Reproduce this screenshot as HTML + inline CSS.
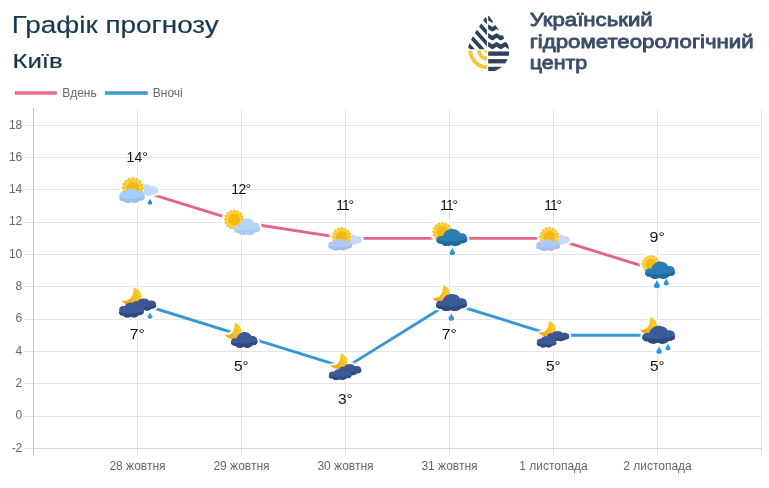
<!DOCTYPE html><html><head><meta charset="utf-8"><title>Графік прогнозу</title>
<style>html,body{margin:0;padding:0;background:#fff}body{width:769px;height:488px;overflow:hidden}svg{display:block;will-change:transform;opacity:0.999}text{font-family:"Liberation Sans", sans-serif}</style></head><body>
<svg width="769" height="488" viewBox="0 0 769 488">
<defs><filter id="glow" x="-30%" y="-30%" width="160%" height="160%" color-interpolation-filters="sRGB"><feMorphology in="SourceAlpha" operator="dilate" radius="1.2" result="d"/><feGaussianBlur in="d" stdDeviation="0.9" result="b"/><feColorMatrix in="b" type="matrix" values="0 0 0 0 1  0 0 0 0 1  0 0 0 0 1  0 0 0 1.8 0" result="w"/><feMerge><feMergeNode in="w"/><feMergeNode in="SourceGraphic"/></feMerge></filter><linearGradient id="mg" x1="0" y1="0.8" x2="1" y2="0.3"><stop offset="0" stop-color="#eaa21c"/><stop offset="0.55" stop-color="#f6bd1e"/><stop offset="1" stop-color="#fbcf3a"/></linearGradient></defs>
<rect width="769" height="488" fill="#fff"/>
<text x="11.8" y="33.2" font-size="24.5" fill="#17384d" stroke="#17384d" stroke-width="0.2" textLength="207" lengthAdjust="spacingAndGlyphs">Графік прогнозу</text>
<text x="12.4" y="68.2" font-size="19.5" fill="#17384d" stroke="#17384d" stroke-width="0.2" textLength="50.2" lengthAdjust="spacingAndGlyphs">Київ</text>
<g font-size="18.8" fill="#3c4d69" stroke="#3c4d69" stroke-width="0.85" stroke-linejoin="round">
<text x="529.7" y="26.0" textLength="123" lengthAdjust="spacingAndGlyphs">Український</text>
<text x="529.7" y="47.6" textLength="224" lengthAdjust="spacingAndGlyphs">гідрометеорологічний</text>
<text x="529.7" y="69" textLength="57.6" lengthAdjust="spacingAndGlyphs">центр</text>
</g>
<defs><clipPath id="dr"><path d="M487.5 13.2 C491 19.5 497 27 503 36 C507 42 509.3 46.5 509.3 51 A20.8 20.8 0 0 1 467.7 51 C467.7 46.5 470 42 473 36 C478.5 27 484 19.5 487.5 13.2Z"/></clipPath><clipPath id="qtl"><rect x="460" y="5" width="26.9" height="44.2"/></clipPath><clipPath id="qtr"><rect x="488.1" y="5" width="30" height="44.2"/></clipPath><clipPath id="qbl"><rect x="460" y="50.4" width="26.9" height="30"/></clipPath><clipPath id="qbr"><rect x="488.1" y="50.4" width="30" height="30"/></clipPath></defs><g clip-path="url(#dr)"><g clip-path="url(#qtl)"><g transform="rotate(48 487 49.5)" fill="#2f3f5e"><rect x="430" y="58.35" width="120" height="3.7"/><rect x="430" y="51.05" width="120" height="3.7"/><rect x="430" y="43.75" width="120" height="3.7"/><rect x="430" y="36.45" width="120" height="3.7"/><rect x="430" y="29.15" width="120" height="3.7"/><rect x="430" y="21.85" width="120" height="3.7"/><rect x="430" y="14.55" width="120" height="3.7"/><rect x="430" y="7.25" width="120" height="3.7"/><rect x="430" y="-0.05" width="120" height="3.7"/><rect x="430" y="-7.35" width="120" height="3.7"/></g></g><g clip-path="url(#qtr)" fill="none" stroke="#2f3f5e" stroke-width="4.1" stroke-linejoin="round"><path d="M484 46.8 L488.2 44.2 L492.4 47.0 L496.6 44.2 L500.8 47.0 L505.0 44.2 L509.2 47.0 L513.4 44.2 L517.6 47.0"/><path d="M484 38.0 L488.2 35.4 L492.4 38.2 L496.6 35.4 L500.8 38.2 L505.0 35.4 L509.2 38.2 L513.4 35.4 L517.6 38.2"/><path d="M484 29.2 L488.2 26.6 L492.4 29.4 L496.6 26.6 L500.8 29.4 L505.0 26.6 L509.2 29.4 L513.4 26.6 L517.6 29.4"/><path d="M484 20.4 L488.2 17.8 L492.4 20.6 L496.6 17.8 L500.8 20.6 L505.0 17.8 L509.2 20.6 L513.4 17.8 L517.6 20.6"/></g><g clip-path="url(#qbr)" fill="#2f3f5e"><rect x="488.1" y="51.5" width="30" height="4.3"/><rect x="488.1" y="59.1" width="30" height="4.3"/><rect x="488.1" y="66.8" width="30" height="4.3"/></g><g clip-path="url(#qbl)" fill="none" stroke="#efc83a" stroke-width="3.9"><circle cx="487.4" cy="49.9" r="17.2"/><circle cx="487.4" cy="49.9" r="8.7"/><circle cx="487.4" cy="49.9" r="3.4" fill="#efc83a" stroke="none"/></g></g>
<rect x="14.8" y="91.2" width="42" height="3.6" fill="#e8708c"/>
<rect x="104.8" y="91.2" width="43" height="3.6" fill="#409bd2"/>
<g font-size="12" fill="#666"><text x="62.3" y="97">Вдень</text><text x="152.8" y="97">Вночі</text></g>
<g stroke="#e4e4e4" stroke-width="1" shape-rendering="crispEdges">
<line x1="24.0" y1="448.40" x2="761.5" y2="448.40"/>
<line x1="24.0" y1="416.09" x2="761.5" y2="416.09"/>
<line x1="24.0" y1="383.78" x2="761.5" y2="383.78"/>
<line x1="24.0" y1="351.47" x2="761.5" y2="351.47"/>
<line x1="24.0" y1="319.16" x2="761.5" y2="319.16"/>
<line x1="24.0" y1="286.85" x2="761.5" y2="286.85"/>
<line x1="24.0" y1="254.54" x2="761.5" y2="254.54"/>
<line x1="24.0" y1="222.23" x2="761.5" y2="222.23"/>
<line x1="24.0" y1="189.92" x2="761.5" y2="189.92"/>
<line x1="24.0" y1="157.61" x2="761.5" y2="157.61"/>
<line x1="24.0" y1="125.30" x2="761.5" y2="125.30"/>
<line x1="137.50" y1="107.5" x2="137.50" y2="456.0"/>
<line x1="241.50" y1="107.5" x2="241.50" y2="456.0"/>
<line x1="345.50" y1="107.5" x2="345.50" y2="456.0"/>
<line x1="449.50" y1="107.5" x2="449.50" y2="456.0"/>
<line x1="553.50" y1="107.5" x2="553.50" y2="456.0"/>
<line x1="657.50" y1="107.5" x2="657.50" y2="456.0"/>
<line x1="761.50" y1="107.5" x2="761.50" y2="456.0"/>
</g>
<line x1="33.50" y1="107.5" x2="33.50" y2="455" stroke="#c4c4c4" stroke-width="1" shape-rendering="crispEdges"/>
<line x1="33.50" y1="448.40" x2="761.50" y2="448.40" stroke="#d6d6d6" stroke-width="1" shape-rendering="crispEdges"/>
<g font-size="12" fill="#666" text-anchor="end">
<text x="22.3" y="451.6">-2</text>
<text x="22.3" y="419.3">0</text>
<text x="22.3" y="387.0">2</text>
<text x="22.3" y="354.7">4</text>
<text x="22.3" y="322.4">6</text>
<text x="22.3" y="290.0">8</text>
<text x="22.3" y="257.7">10</text>
<text x="22.3" y="225.4">12</text>
<text x="22.3" y="193.1">14</text>
<text x="22.3" y="160.8">16</text>
<text x="22.3" y="128.5">18</text>
</g>
<g font-size="12" fill="#666" text-anchor="middle">
<text x="137.5" y="469.8">28 жовтня</text>
<text x="241.5" y="469.8">29 жовтня</text>
<text x="345.5" y="469.8">30 жовтня</text>
<text x="449.5" y="469.8">31 жовтня</text>
<text x="553.5" y="469.8">1 листопада</text>
<text x="657.5" y="469.8">2 листопада</text>
</g>
<polyline points="137.50,189.92 241.50,222.23 345.50,238.38 449.50,238.38 553.50,238.38 657.50,270.69" fill="none" stroke="#e46489" stroke-width="2.9" stroke-linejoin="round"/>
<polyline points="137.50,303.00 241.50,335.31 345.50,367.62 449.50,303.00 553.50,335.31 657.50,335.31" fill="none" stroke="#3896d6" stroke-width="2.9" stroke-linejoin="round"/>
<g filter="url(#glow)"><path d="M134.49 190.66 C133.75 188.14 136.46 186.62 139.66 187.13 C141.38 183.60 149.25 183.10 151.22 186.62 C154.66 185.62 158.60 187.38 158.23 189.90 C159.09 192.42 156.88 194.44 153.68 194.06 C151.96 196.20 147.78 196.58 145.81 195.32 C143.35 196.70 139.41 196.20 138.43 194.44 C135.48 194.81 133.51 192.92 134.49 190.66Z" fill="#c3dbf8" opacity="1"/><circle cx="132.80" cy="188.30" r="11.50" fill="#fdf3b8" opacity="0.9"/><circle cx="132.80" cy="188.30" r="9.89" fill="none" stroke="#edb92c" stroke-width="2.30" stroke-dasharray="0.010 3.874" stroke-linecap="round"/><circle cx="132.80" cy="188.30" r="9.66" fill="#f3c33a"/><circle cx="132.80" cy="188.30" r="8.74" fill="#fbd445"/><circle cx="132.80" cy="188.30" r="6.67" fill="#f9b90c"/><path d="M119.52 196.34 C118.74 193.22 121.58 191.34 124.93 191.97 C126.74 187.60 135.00 186.98 137.06 191.34 C140.67 190.10 144.80 192.28 144.41 195.40 C145.32 198.52 142.99 201.02 139.64 200.55 C137.83 203.20 133.45 203.67 131.38 202.11 C128.80 203.82 124.68 203.20 123.64 201.02 C120.55 201.48 118.48 199.14 119.52 196.34Z" fill="#a5cdf8" opacity="1"/><path d="M119.52 197.58 C125.45 199.46 137.58 199.77 144.41 196.34 C145.32 198.52 142.99 201.02 139.64 200.55 C137.83 203.20 133.45 203.67 131.38 202.11 C128.80 203.82 124.68 203.20 123.64 201.02 C120.55 201.48 118.48 199.14 119.52 196.34Z" fill="#96c0f0" opacity="1"/><path d="M150.00 198.60 C150.67 200.70 152.22 201.60 152.22 202.92 C152.22 205.08 147.78 205.08 147.78 202.92 C147.78 201.60 149.33 200.70 150.00 198.60Z" fill="#1f8fd0"/></g>
<g filter="url(#glow)"><circle cx="234.00" cy="219.60" r="10.40" fill="#fdf3b8" opacity="0.9"/><circle cx="234.00" cy="219.60" r="8.94" fill="none" stroke="#edb92c" stroke-width="2.08" stroke-dasharray="0.010 3.502" stroke-linecap="round"/><circle cx="234.00" cy="219.60" r="8.74" fill="#f3c33a"/><circle cx="234.00" cy="219.60" r="7.90" fill="#fbd445"/><circle cx="234.00" cy="219.60" r="6.03" fill="#f9b90c"/><path d="M234.33 229.08 C233.54 226.36 236.44 224.49 239.34 225.34 C240.93 219.90 245.42 217.52 249.11 218.71 C251.75 219.22 253.60 220.75 254.13 222.79 C257.30 221.94 260.20 224.32 259.80 227.72 C260.73 230.10 258.35 232.82 254.92 232.31 C253.07 235.20 248.58 235.71 246.47 234.01 C243.83 235.88 239.61 235.20 238.55 232.82 C235.38 233.33 233.27 230.78 234.33 227.72Z" fill="#b4d4f9" opacity="1"/><path d="M234.33 229.08 C240.40 231.12 252.81 231.46 259.80 227.72 C260.73 230.10 258.35 232.82 254.92 232.31 C253.07 235.20 248.58 235.71 246.47 234.01 C243.83 235.88 239.61 235.20 238.55 232.82 C235.38 233.33 233.27 230.78 234.33 227.72Z" fill="#a9cbf5" opacity="1"/></g>
<g filter="url(#glow)"><path d="M341.42 239.87 C340.79 237.63 343.10 236.29 345.83 236.74 C347.30 233.60 354.02 233.15 355.70 236.29 C358.64 235.39 362.00 236.96 361.69 239.20 C362.42 241.44 360.53 243.23 357.80 242.90 C356.33 244.80 352.76 245.14 351.08 244.02 C348.98 245.25 345.62 244.80 344.78 243.23 C342.26 243.57 340.58 241.89 341.42 239.87Z" fill="#c6d8f8" opacity="1"/><circle cx="341.60" cy="237.00" r="10.30" fill="#fdf3b8" opacity="0.9"/><circle cx="341.60" cy="237.00" r="8.86" fill="none" stroke="#edb92c" stroke-width="2.06" stroke-dasharray="0.010 3.469" stroke-linecap="round"/><circle cx="341.60" cy="237.00" r="8.65" fill="#f3c33a"/><circle cx="341.60" cy="237.00" r="7.83" fill="#fbd445"/><circle cx="341.60" cy="237.00" r="5.97" fill="#f9b90c"/><path d="M328.49 245.09 C327.76 242.63 330.44 241.15 333.61 241.64 C335.32 238.20 343.13 237.71 345.08 241.15 C348.50 240.17 352.40 241.89 352.03 244.35 C352.89 246.81 350.69 248.78 347.52 248.41 C345.81 250.50 341.66 250.87 339.71 249.64 C337.27 250.99 333.37 250.50 332.39 248.78 C329.46 249.15 327.51 247.30 328.49 245.09Z" fill="#aec8f7" opacity="1"/><path d="M328.49 246.07 C334.10 247.55 345.57 247.79 352.03 245.09 C352.89 246.81 350.69 248.78 347.52 248.41 C345.81 250.50 341.66 250.87 339.71 249.64 C337.27 250.99 333.37 250.50 332.39 248.78 C329.46 249.15 327.51 247.30 328.49 245.09Z" fill="#a2bcf0" opacity="1"/></g>
<g filter="url(#glow)"><circle cx="442.30" cy="232.00" r="10.40" fill="#fdf3b8" opacity="0.9"/><circle cx="442.30" cy="232.00" r="8.94" fill="none" stroke="#edb92c" stroke-width="2.08" stroke-dasharray="0.010 3.502" stroke-linecap="round"/><circle cx="442.30" cy="232.00" r="8.74" fill="#f3c33a"/><circle cx="442.30" cy="232.00" r="7.90" fill="#fbd445"/><circle cx="442.30" cy="232.00" r="6.03" fill="#f9b90c"/><path d="M436.83 239.94 C435.89 237.15 439.33 235.24 442.77 236.11 C444.65 230.54 449.97 228.10 454.35 229.32 C457.48 229.84 459.68 231.41 460.30 233.50 C464.06 232.63 467.50 235.06 467.03 238.54 C468.13 240.98 465.31 243.76 461.24 243.24 C459.05 246.20 453.73 246.72 451.22 244.98 C448.09 246.90 443.09 246.20 441.83 243.76 C438.08 244.29 435.57 241.68 436.83 238.54Z" fill="#2b7eb2" opacity="1"/><path d="M436.83 239.94 C444.02 242.02 458.74 242.37 467.03 238.54 C468.13 240.98 465.31 243.76 461.24 243.24 C459.05 246.20 453.73 246.72 451.22 244.98 C448.09 246.90 443.09 246.20 441.83 243.76 C438.08 244.29 435.57 241.68 436.83 238.54Z" fill="#216b9c" opacity="1"/><path d="M452.30 247.80 C453.12 250.39 455.04 251.50 455.04 253.13 C455.04 255.79 449.56 255.79 449.56 253.13 C449.56 251.50 451.48 250.39 452.30 247.80Z" fill="#1b9ce0"/></g>
<g filter="url(#glow)"><path d="M549.42 239.87 C548.79 237.63 551.10 236.29 553.83 236.74 C555.30 233.60 562.02 233.15 563.70 236.29 C566.64 235.39 570.00 236.96 569.68 239.20 C570.42 241.44 568.53 243.23 565.80 242.90 C564.33 244.80 560.76 245.14 559.08 244.02 C556.98 245.25 553.62 244.80 552.78 243.23 C550.26 243.57 548.58 241.89 549.42 239.87Z" fill="#c6d8f8" opacity="1"/><circle cx="549.30" cy="237.00" r="10.50" fill="#fdf3b8" opacity="0.9"/><circle cx="549.30" cy="237.00" r="9.03" fill="none" stroke="#edb92c" stroke-width="2.10" stroke-dasharray="0.010 3.536" stroke-linecap="round"/><circle cx="549.30" cy="237.00" r="8.82" fill="#f3c33a"/><circle cx="549.30" cy="237.00" r="7.98" fill="#fbd445"/><circle cx="549.30" cy="237.00" r="6.09" fill="#f9b90c"/><path d="M536.48 245.46 C535.76 242.94 538.42 241.42 541.57 241.93 C543.26 238.40 551.00 237.90 552.94 241.42 C556.33 240.42 560.20 242.18 559.84 244.70 C560.68 247.22 558.51 249.24 555.36 248.86 C553.67 251.00 549.55 251.38 547.62 250.12 C545.20 251.50 541.32 251.00 540.36 249.24 C537.45 249.61 535.52 247.72 536.48 245.46Z" fill="#aec8f7" opacity="1"/><path d="M536.48 246.46 C542.05 247.98 553.42 248.23 559.84 245.46 C560.68 247.22 558.51 249.24 555.36 248.86 C553.67 251.00 549.55 251.38 547.62 250.12 C545.20 251.50 541.32 251.00 540.36 249.24 C537.45 249.61 535.52 247.72 536.48 245.46Z" fill="#a2bcf0" opacity="1"/></g>
<g filter="url(#glow)"><circle cx="650.80" cy="264.00" r="9.40" fill="#fdf3b8" opacity="0.9"/><circle cx="650.80" cy="264.00" r="8.08" fill="none" stroke="#edb92c" stroke-width="1.88" stroke-dasharray="0.010 3.165" stroke-linecap="round"/><circle cx="650.80" cy="264.00" r="7.90" fill="#f3c33a"/><circle cx="650.80" cy="264.00" r="7.14" fill="#fbd445"/><circle cx="650.80" cy="264.00" r="5.45" fill="#f9b90c"/><path d="M645.41 272.66 C644.50 269.85 647.84 267.91 651.18 268.79 C653.01 263.16 658.18 260.70 662.43 261.93 C665.47 262.46 667.60 264.04 668.21 266.15 C671.86 265.27 675.20 267.74 674.74 271.26 C675.81 273.72 673.07 276.54 669.12 276.01 C666.99 279.00 661.82 279.53 659.39 277.77 C656.35 279.70 651.49 279.00 650.27 276.54 C646.62 277.06 644.19 274.42 645.41 271.26Z" fill="#2b7eb2" opacity="1"/><path d="M645.41 272.66 C652.40 274.78 666.69 275.13 674.74 271.26 C675.81 273.72 673.07 276.54 669.12 276.01 C666.99 279.00 661.82 279.53 659.39 277.77 C656.35 279.70 651.49 279.00 650.27 276.54 C646.62 277.06 644.19 274.42 645.41 271.26Z" fill="#216b9c" opacity="1"/><path d="M656.90 280.00 C657.82 282.91 659.97 284.15 659.97 285.98 C659.97 288.96 653.83 288.96 653.83 285.98 C653.83 284.15 655.98 282.91 656.90 280.00Z" fill="#2196dc"/><path d="M666.30 278.60 C667.07 281.01 668.85 282.05 668.85 283.57 C668.85 286.05 663.75 286.05 663.75 283.57 C663.75 282.05 665.53 281.01 666.30 278.60Z" fill="#2196dc"/></g>
<g filter="url(#glow)"><path d="M133.54 287.50 C141.50 289.27 143.89 297.24 139.11 302.37 C134.73 306.62 124.78 305.91 121.60 300.60 C126.38 301.66 130.75 299.54 132.35 295.29 C133.54 292.10 133.54 289.62 133.54 287.50Z" fill="url(#mg)"/><path d="M132.49 304.97 C131.76 302.41 134.44 300.87 137.61 301.38 C139.32 297.80 147.13 297.29 149.08 300.87 C152.50 299.85 156.40 301.64 156.03 304.20 C156.89 306.76 154.69 308.81 151.52 308.42 C149.81 310.60 145.66 310.98 143.71 309.70 C141.27 311.11 137.37 310.60 136.39 308.81 C133.46 309.19 131.51 307.27 132.49 304.97Z" fill="#3a5590" opacity="1"/><path d="M132.49 305.99 C138.10 307.53 149.57 307.78 156.03 304.97 C156.89 306.76 154.69 308.81 151.52 308.42 C149.81 310.60 145.66 310.98 143.71 309.70 C141.27 311.11 137.37 310.60 136.39 308.81 C133.46 309.19 131.51 307.27 132.49 304.97Z" fill="#2f4a80" opacity="1"/><path d="M119.30 310.65 C118.55 307.49 121.32 305.59 124.60 306.22 C126.36 301.80 134.42 301.17 136.44 305.59 C139.97 304.33 144.00 306.54 143.62 309.70 C144.50 312.86 142.24 315.39 138.96 314.91 C137.20 317.60 132.91 318.07 130.90 316.49 C128.38 318.23 124.34 317.60 123.34 315.39 C120.31 315.86 118.30 313.49 119.30 310.65Z" fill="#3b5b96" opacity="1"/><path d="M119.30 311.91 C125.10 313.81 136.94 314.12 143.62 310.65 C144.50 312.86 142.24 315.39 138.96 314.91 C137.20 317.60 132.91 318.07 130.90 316.49 C128.38 318.23 124.34 317.60 123.34 315.39 C120.31 315.86 118.30 313.49 119.30 310.65Z" fill="#2f4a80" opacity="1"/><path d="M150.00 312.20 C150.74 314.54 152.48 315.55 152.48 317.02 C152.48 319.44 147.52 319.44 147.52 317.02 C147.52 315.55 149.26 314.54 150.00 312.20Z" fill="#3b9ee2"/></g>
<g filter="url(#glow)"><path d="M234.78 322.50 C241.30 324.17 243.26 331.69 239.34 336.53 C235.76 340.54 227.61 339.87 225.00 334.86 C228.91 335.86 232.50 333.86 233.80 329.85 C234.78 326.84 234.78 324.50 234.78 322.50Z" fill="url(#mg)"/><path d="M231.24 342.13 C230.43 339.52 233.40 337.73 236.37 338.55 C237.99 333.33 242.58 331.05 246.36 332.19 C249.06 332.68 250.95 334.14 251.49 336.10 C254.73 335.29 257.70 337.57 257.29 340.83 C258.24 343.11 255.81 345.72 252.30 345.23 C250.41 348.00 245.82 348.49 243.66 346.86 C240.96 348.65 236.64 348.00 235.56 345.72 C232.32 346.21 230.16 343.76 231.24 340.83Z" fill="#3b5b96" opacity="1"/><path d="M231.24 342.13 C237.45 344.09 250.14 344.41 257.29 340.83 C258.24 343.11 255.81 345.72 252.30 345.23 C250.41 348.00 245.82 348.49 243.66 346.86 C240.96 348.65 236.64 348.00 235.56 345.72 C232.32 346.21 230.16 343.76 231.24 340.83Z" fill="#2f4a80" opacity="1"/></g>
<g filter="url(#glow)"><path d="M340.58 353.50 C347.50 355.07 349.58 362.13 345.42 366.69 C341.62 370.46 332.97 369.83 330.20 365.12 C334.35 366.06 338.16 364.18 339.54 360.41 C340.58 357.58 340.58 355.38 340.58 353.50Z" fill="url(#mg)"/><path d="M339.45 370.06 C338.77 367.68 341.25 366.26 344.18 366.73 C345.75 363.40 352.95 362.92 354.75 366.26 C357.90 365.30 361.50 366.97 361.16 369.35 C361.95 371.73 359.93 373.63 357.00 373.28 C355.43 375.30 351.60 375.66 349.80 374.47 C347.55 375.78 343.95 375.30 343.05 373.63 C340.35 373.99 338.55 372.21 339.45 370.06Z" fill="#3a5590" opacity="1"/><path d="M339.45 371.02 C344.62 372.44 355.20 372.68 361.16 370.06 C361.95 371.73 359.93 373.63 357.00 373.28 C355.43 375.30 351.60 375.66 349.80 374.47 C347.55 375.78 343.95 375.30 343.05 373.63 C340.35 373.99 338.55 372.21 339.45 370.06Z" fill="#2f4a80" opacity="1"/><path d="M329.06 374.90 C328.37 372.58 330.90 371.18 333.89 371.65 C335.50 368.40 342.86 367.94 344.70 371.18 C347.92 370.26 351.60 371.88 351.25 374.20 C352.06 376.52 349.99 378.38 347.00 378.03 C345.39 380.00 341.48 380.35 339.64 379.19 C337.34 380.46 333.66 380.00 332.74 378.38 C329.98 378.72 328.14 376.98 329.06 374.90Z" fill="#3b5b96" opacity="1"/><path d="M329.06 375.82 C334.35 377.22 345.16 377.45 351.25 374.90 C352.06 376.52 349.99 378.38 347.00 378.03 C345.39 380.00 341.48 380.35 339.64 379.19 C337.34 380.46 333.66 380.00 332.74 378.38 C329.98 378.72 328.14 376.98 329.06 374.90Z" fill="#2f4a80" opacity="1"/></g>
<g filter="url(#glow)"><path d="M442.98 285.00 C449.90 286.74 451.98 294.57 447.82 299.62 C444.02 303.79 435.37 303.10 432.60 297.88 C436.75 298.92 440.56 296.83 441.94 292.66 C442.98 289.52 442.98 287.09 442.98 285.00Z" fill="url(#mg)"/><path d="M436.33 304.87 C435.38 302.10 438.86 300.20 442.34 301.07 C444.23 295.53 449.60 293.11 454.03 294.32 C457.19 294.84 459.40 296.40 460.03 298.47 C463.82 297.61 467.30 300.03 466.83 303.49 C467.93 305.91 465.09 308.68 460.98 308.16 C458.77 311.10 453.40 311.62 450.87 309.89 C447.71 311.79 442.65 311.10 441.39 308.68 C437.60 309.20 435.07 306.60 436.33 303.49Z" fill="#3b5b96" opacity="1"/><path d="M436.33 304.87 C443.60 306.95 458.45 307.29 466.83 303.49 C467.93 305.91 465.09 308.68 460.98 308.16 C458.77 311.10 453.40 311.62 450.87 309.89 C447.71 311.79 442.65 311.10 441.39 308.68 C437.60 309.20 435.07 306.60 436.33 303.49Z" fill="#2f4a80" opacity="1"/><path d="M451.30 313.20 C452.14 315.86 454.11 317.00 454.11 318.67 C454.11 321.41 448.49 321.41 448.49 318.67 C448.49 317.00 450.46 315.86 451.30 313.20Z" fill="#3f8fdb"/></g>
<g filter="url(#glow)"><path d="M548.78 321.10 C555.90 322.62 558.04 329.46 553.76 333.87 C549.85 337.52 540.95 336.91 538.10 332.35 C542.37 333.26 546.29 331.44 547.71 327.79 C548.78 325.05 548.78 322.92 548.78 321.10Z" fill="url(#mg)"/><path d="M547.45 336.50 C546.78 334.32 549.24 333.02 552.15 333.45 C553.72 330.40 560.89 329.96 562.68 333.02 C565.82 332.14 569.40 333.67 569.06 335.85 C569.85 338.03 567.83 339.77 564.92 339.45 C563.35 341.30 559.54 341.63 557.75 340.54 C555.51 341.74 551.93 341.30 551.03 339.77 C548.34 340.10 546.55 338.47 547.45 336.50Z" fill="#3a5590" opacity="1"/><path d="M547.45 337.38 C552.60 338.68 563.13 338.90 569.06 336.50 C569.85 338.03 567.83 339.77 564.92 339.45 C563.35 341.30 559.54 341.63 557.75 340.54 C555.51 341.74 551.93 341.30 551.03 339.77 C548.34 340.10 546.55 338.47 547.45 336.50Z" fill="#2f4a80" opacity="1"/><path d="M537.00 342.23 C536.40 339.79 538.59 338.33 541.18 338.82 C542.57 335.40 548.94 334.91 550.53 338.33 C553.32 337.35 556.50 339.06 556.20 341.50 C556.90 343.94 555.11 345.89 552.52 345.53 C551.13 347.60 547.74 347.97 546.15 346.75 C544.16 348.09 540.98 347.60 540.18 345.89 C537.79 346.26 536.20 344.43 537.00 342.23Z" fill="#3b5b96" opacity="1"/><path d="M537.00 343.21 C541.58 344.67 550.93 344.92 556.20 342.23 C556.90 343.94 555.11 345.89 552.52 345.53 C551.13 347.60 547.74 347.97 546.15 346.75 C544.16 348.09 540.98 347.60 540.18 345.89 C537.79 346.26 536.20 344.43 537.00 342.23Z" fill="#2f4a80" opacity="1"/></g>
<g filter="url(#glow)"><path d="M650.18 317.00 C657.10 318.69 659.18 326.29 655.02 331.20 C651.22 335.25 642.57 334.58 639.80 329.51 C643.95 330.52 647.76 328.49 649.14 324.44 C650.18 321.39 650.18 319.03 650.18 317.00Z" fill="url(#mg)"/><path d="M642.67 337.31 C641.67 334.38 645.34 332.37 649.01 333.29 C651.02 327.43 656.70 324.87 661.37 326.15 C664.71 326.70 667.05 328.35 667.72 330.54 C671.73 329.63 675.40 332.19 674.90 335.85 C676.07 338.41 673.06 341.34 668.72 340.79 C666.38 343.90 660.70 344.45 658.03 342.62 C654.69 344.63 649.35 343.90 648.01 341.34 C644.00 341.89 641.33 339.14 642.67 335.85Z" fill="#3b5b96" opacity="1"/><path d="M642.67 337.31 C650.35 339.51 666.05 339.87 674.90 335.85 C676.07 338.41 673.06 341.34 668.72 340.79 C666.38 343.90 660.70 344.45 658.03 342.62 C654.69 344.63 649.35 343.90 648.01 341.34 C644.00 341.89 641.33 339.14 642.67 335.85Z" fill="#2f4a80" opacity="1"/><path d="M659.10 346.40 C659.94 349.06 661.91 350.20 661.91 351.87 C661.91 354.61 656.29 354.61 656.29 351.87 C656.29 350.20 658.26 349.06 659.10 346.40Z" fill="#2b95e6"/><path d="M668.00 343.50 C668.77 345.91 670.55 346.95 670.55 348.47 C670.55 350.95 665.45 350.95 665.45 348.47 C665.45 346.95 667.23 345.91 668.00 343.50Z" fill="#2b95e6"/></g>
<g font-size="13.9" fill="#111">
<text x="126.60" y="161.5" textLength="21.2" lengthAdjust="spacing">14°</text>
<text x="231.30" y="193.8" textLength="19.8" lengthAdjust="spacing">12°</text>
<text x="336.30" y="210.0" textLength="17.8" lengthAdjust="spacing">11°</text>
<text x="440.30" y="210.0" textLength="17.8" lengthAdjust="spacing">11°</text>
<text x="544.30" y="210.0" textLength="17.8" lengthAdjust="spacing">11°</text>
<text x="649.60" y="242.3" textLength="15.2" lengthAdjust="spacingAndGlyphs">9°</text>
<text x="129.85" y="338.9" textLength="14.9" lengthAdjust="spacingAndGlyphs">7°</text>
<text x="233.95" y="371.2" textLength="14.7" lengthAdjust="spacingAndGlyphs">5°</text>
<text x="337.90" y="403.5" textLength="14.8" lengthAdjust="spacingAndGlyphs">3°</text>
<text x="441.85" y="338.9" textLength="14.9" lengthAdjust="spacingAndGlyphs">7°</text>
<text x="545.95" y="371.2" textLength="14.7" lengthAdjust="spacingAndGlyphs">5°</text>
<text x="649.95" y="371.2" textLength="14.7" lengthAdjust="spacingAndGlyphs">5°</text>
</g>
</svg></body></html>
